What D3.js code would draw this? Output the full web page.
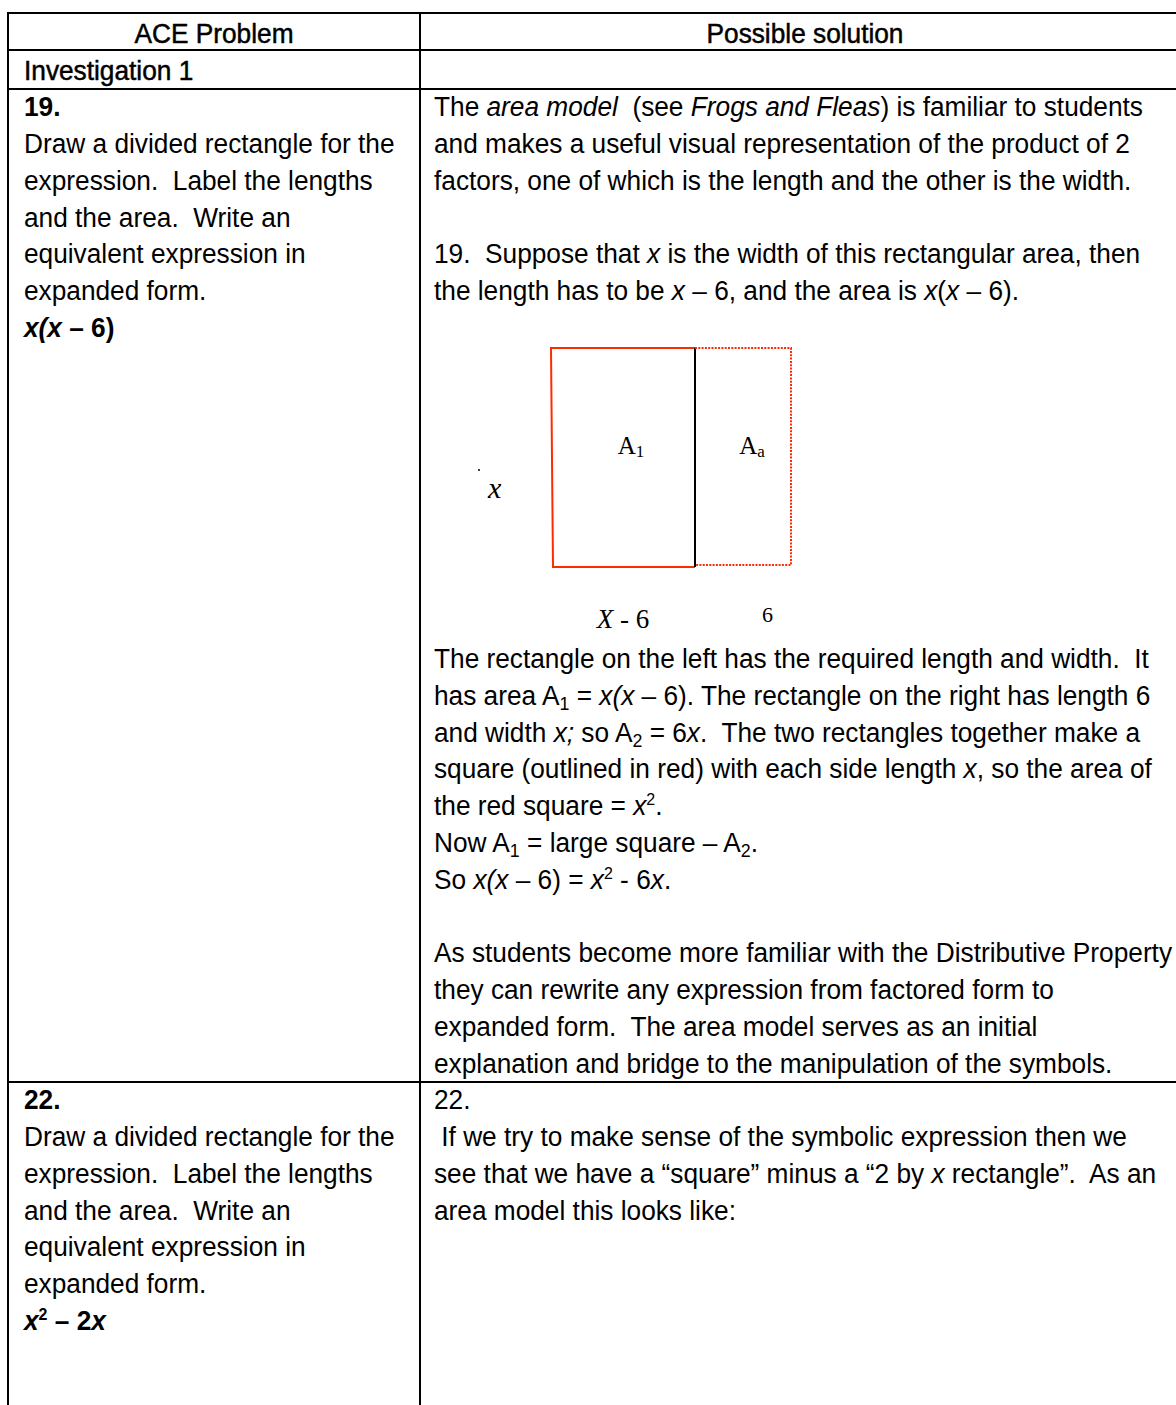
<!DOCTYPE html>
<html>
<head>
<meta charset="utf-8">
<script src="https://cdn.jsdelivr.net/npm/d3@7"></script>
<style>
  body { margin: 0; background: #fff; }
  svg text { white-space: pre; }
</style>
</head>
<body>
<svg id="page" width="1176" height="1405"></svg>
<script>
// markup: *italic*  ~sub~  ^sup^ ; lines keyed by text-line index in the grid
const headers = ["ACE Problem", "Possible solution"];

const problemLines = [
  [-1, "Investigation 1", ""],
  [0, "19.", "b"],
  [1, "Draw a divided rectangle for the", ""],
  [2, "expression.  Label the lengths", ""],
  [3, "and the area.  Write an", ""],
  [4, "equivalent expression in", ""],
  [5, "expanded form.", ""],
  [6, "*x(x* – 6)", "b"],
  [27, "22.", "b"],
  [28, "Draw a divided rectangle for the", ""],
  [29, "expression.  Label the lengths", ""],
  [30, "and the area.  Write an", ""],
  [31, "equivalent expression in", ""],
  [32, "expanded form.", ""],
  [33, "*x*^2^ – 2*x*", "b"]
];

const solutionLines = [
  [0, "The *area model*  (see *Frogs and Fleas*) is familiar to students"],
  [1, "and makes a useful visual representation of the product of 2"],
  [2, "factors, one of which is the length and the other is the width."],
  [4, "19.  Suppose that *x* is the width of this rectangular area, then"],
  [5, "the length has to be *x* – 6, and the area is *x*(*x* – 6)."],
  [15, "The rectangle on the left has the required length and width.  It"],
  [16, "has area A~1~ = *x(x* – 6). The rectangle on the right has length 6"],
  [17, "and width *x;* so A~2~ = 6*x*.  The two rectangles together make a"],
  [18, "square (outlined in red) with each side length *x*, so the area of"],
  [19, "the red square = *x*^2^."],
  [20, "Now A~1~ = large square – A~2~."],
  [21, "So *x(x* – 6) = *x*^2^ - 6*x*."],
  [23, "As students become more familiar with the Distributive Property"],
  [24, "they can rewrite any expression from factored form to"],
  [25, "expanded form.  The area model serves as an initial"],
  [26, "explanation and bridge to the manipulation of the symbols."],
  [27, "22."],
  [28, " If we try to make sense of the symbolic expression then we"],
  [29, "see that we have a “square” minus a “2 by *x* rectangle”.  As an"],
  [30, "area model this looks like:"]
];

// area model for 19: side x split into (x - 6) and 6
const sideParts = [
  { label: "X - 6", area: "A", sub: "1", size: 3 },
  { label: "6", area: "A", sub: "a", size: 2 }
];

const svg = d3.select("#page");
const FONT = "'Liberation Sans Narrow', 'Arial Narrow', 'Liberation Sans', sans-serif";
const SERIF = "'Liberation Serif', 'Times New Roman', serif";
const SQUEEZE = 0.938; // narrow face isn't installed, so compress Liberation Sans

// text grid: line index -> baseline
const lineY = d3.scaleLinear().domain([0, 1]).range([116.3, 116.3 + 36.78]);

// table rules
const table = svg.append("g").attr("stroke", "#000").attr("stroke-width", 2);
[13, 50, 89, 1082].forEach(y =>
  table.append("line").attr("x1", 8).attr("x2", 1176).attr("y1", y).attr("y2", y));
table.append("line").attr("x1", 8).attr("x2", 8).attr("y1", 12).attr("y2", 1405);
table.append("line").attr("x1", 420).attr("x2", 420).attr("y1", 12).attr("y2", 1405);

function richText(g, x, y, str, bold, anchor) {
  const t = g.append("text")
    .attr("transform", `translate(${x},${y}) scale(${SQUEEZE},1)`)
    .attr("font-family", FONT)
    .attr("font-size", 28)
    .attr("font-weight", bold ? "bold" : "normal")
    .attr("text-anchor", anchor || "start")
    .attr("fill", "#000");
  const parts = str.split(/(\*[^*]+\*|~[^~]+~|\^[^^]+\^)/).filter(s => s.length);
  let shift = 0;
  parts.forEach(p => {
    const s = t.append("tspan");
    let txt = p, dy = -shift;
    if (p[0] === "*") { txt = p.slice(1, -1); s.attr("font-style", "italic"); shift = 0; }
    else if (p[0] === "~") { txt = p.slice(1, -1); s.attr("font-size", 19); dy += 5; shift = 5; }
    else if (p[0] === "^") { txt = p.slice(1, -1); s.attr("font-size", 17); dy += -10; shift = -10; }
    else shift = 0;
    if (dy) s.attr("dy", dy);
    s.text(txt);
  });
  return t;
}

const txt = svg.append("g");
richText(txt, 214, lineY(-2), headers[0], false, "middle").attr("stroke", "#000").attr("stroke-width", 0.5);
richText(txt, 805, lineY(-2), headers[1], false, "middle").attr("stroke", "#000").attr("stroke-width", 0.5);
problemLines.forEach(([i, s, st]) => {
  const t = richText(txt, 24, lineY(i), s, st === "b");
  if (i === -1) t.attr("stroke", "#000").attr("stroke-width", 0.5);
});
solutionLines.forEach(([i, s]) => richText(txt, 434, lineY(i), s, false));

// diagram
const total = d3.sum(sideParts, d => d.size);
const xs = d3.scaleLinear().domain([0, total]).range([551, 791]);
const ys = d3.scaleLinear().domain([0, 1]).range([348, 567]);
const red = "#ff2a00";
const dg = svg.append("g").attr("fill", "none");

let acc = 0;
const cells = sideParts.map(d => { const c = { ...d, x0: acc, x1: acc + d.size }; acc += d.size; return c; });

const a = cells[0], b = cells[1];
dg.append("path")
  .attr("d", `M${xs(a.x1)},${ys(0)}H${xs(a.x0)}L${xs(a.x0) + 2},${ys(1)}H${xs(a.x1)}`)
  .attr("stroke", red).attr("stroke-width", 2);
dg.append("line")
  .attr("x1", xs(a.x1)).attr("x2", xs(a.x1)).attr("y1", ys(0)).attr("y2", ys(1))
  .attr("stroke", "#000").attr("stroke-width", 2);
dg.append("path")
  .attr("d", `M${xs(b.x0)},${ys(0)}H${xs(b.x1)}V${ys(1) - 2}H${xs(b.x0)}`)
  .attr("stroke", red).attr("stroke-width", 2).attr("stroke-dasharray", "2,1.3");

cells.forEach((c, k) => {
  const cx = (xs(c.x0) + xs(c.x1)) / 2;
  const t = dg.append("text").attr("x", cx + (k === 0 ? 8 : 9)).attr("y", ys(0.485))
    .attr("font-family", SERIF).attr("font-size", 25).attr("fill", "#000")
    .attr("text-anchor", "middle");
  t.append("tspan").text(c.area);
  t.append("tspan").attr("font-size", 17).attr("dy", 3).text(c.sub);
});

// side labels
dg.append("text").attr("x", xs(a.x0) - 63).attr("y", ys(0.685))
  .attr("font-family", SERIF).attr("font-size", 30).attr("font-style", "italic")
  .attr("fill", "#000").text("x");
dg.append("circle").attr("cx", xs(a.x0) - 72).attr("cy", ys(0.557)).attr("r", 1).attr("fill", "#000");

const bl = dg.append("text").attr("x", (xs(a.x0) + xs(a.x1)) / 2).attr("y", ys(1) + 61)
  .attr("font-family", SERIF).attr("font-size", 27).attr("fill", "#000").attr("text-anchor", "middle");
bl.append("tspan").attr("font-style", "italic").text("X");
bl.append("tspan").text(" - 6");
dg.append("text").attr("x", xs(b.x1) - 29).attr("y", ys(1) + 55)
  .attr("font-family", SERIF).attr("font-size", 22).attr("fill", "#000").text(b.label);
</script>
</body>
</html>
